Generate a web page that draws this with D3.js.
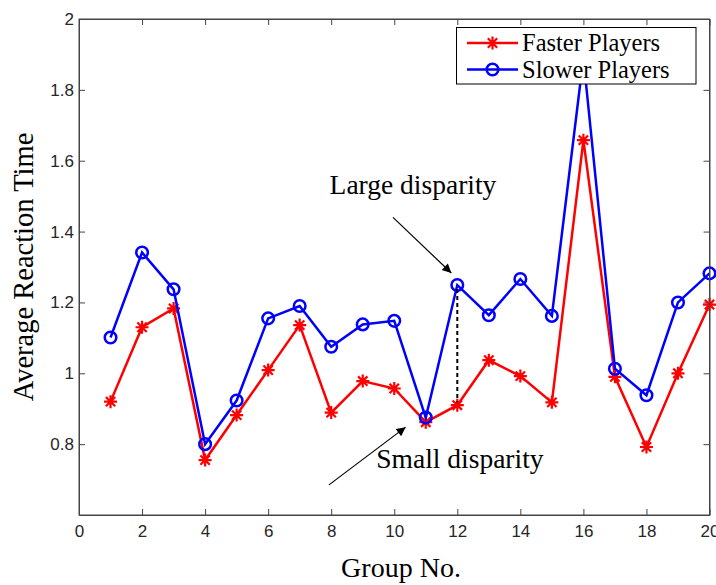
<!DOCTYPE html>
<html>
<head>
<meta charset="utf-8">
<script src="https://cdn.jsdelivr.net/npm/d3@7"></script>
<style>
  html, body { margin: 0; padding: 0; background: #fff; }
  svg { display: block; }
</style>
</head>
<body>
<svg id="chart" width="716" height="585"></svg>
<script>
// ---- data ----
const groups = d3.range(1, 21);
const fasterPlayers = [0.92, 1.13, 1.183, 0.755, 0.882, 1.009, 1.136, 0.889, 0.978, 0.957,
                       0.862, 0.91, 1.037, 0.992, 0.918, 1.658, 0.99, 0.792, 1.0, 1.194];
const slowerPlayers = [1.101, 1.341, 1.237, 0.8, 0.923, 1.155, 1.19, 1.075, 1.138, 1.148,
                       0.875, 1.249, 1.164, 1.266, 1.162, 1.89, 1.013, 0.938, 1.2, 1.282];
const seriesNames = ["Faster Players", "Slower Players"];
const xTicks = [0, 2, 4, 6, 8, 10, 12, 14, 16, 18, 20];
const yTicks = [0.8, 1, 1.2, 1.4, 1.6, 1.8, 2];
const xLabel = "Group No.";
const yLabel = "Average Reaction Time";
// annotations in data units
const disparityGroup = 12;
const largeLabel = { text: "Large disparity", x: 7.95, y: 1.505 };
const largeArrow = { x1: 9.96, y1: 1.44, x2: 11.81, y2: 1.283 };
const smallLabel = { text: "Small disparity", x: 9.43, y: 0.732 };
const smallArrow = { x1: 7.93, y1: 0.685, x2: 10.36, y2: 0.848 };

// ---- layout ----
const svg = d3.select("#chart");
const L = 79, R = 709.5, T = 19, B = 515;
const x = d3.scaleLinear().domain([0, 20]).range([L, R]);
const y = d3.scaleLinear().domain([0.6, 2]).range([B, T]);
const axisColor = "#444";
const sans = "'Liberation Sans', Arial, sans-serif";
const serif = "'Liberation Serif', 'Times New Roman', serif";

svg.append("defs").append("marker")
  .attr("id", "ah").attr("viewBox", "0 0 10 10")
  .attr("refX", 10).attr("refY", 5)
  .attr("markerWidth", 12).attr("markerHeight", 9)
  .attr("markerUnits", "userSpaceOnUse")
  .attr("orient", "auto")
  .append("path").attr("d", "M0,0 L10,5 L0,10 Z").attr("fill", "#000");

// axes
function styleAxis(g, labels) {
  g.selectAll("path.domain").attr("stroke", axisColor);
  g.selectAll(".tick line").attr("stroke", axisColor);
  g.selectAll(".tick text").attr("fill", "#262626")
    .style("font-family", sans).style("font-size", "17px");
  if (!labels) g.selectAll(".tick text").remove();
}
svg.append("g").attr("transform", `translate(0,${B})`)
  .call(d3.axisBottom(x).tickValues(xTicks).tickFormat(d3.format("d")).tickSizeInner(-6).tickSizeOuter(0).tickPadding(10))
  .call(g => styleAxis(g, true));
svg.append("g").attr("transform", `translate(0,${T})`)
  .call(d3.axisTop(x).tickValues(xTicks).tickSizeInner(-6).tickSizeOuter(0))
  .call(g => styleAxis(g, false));
svg.append("g").attr("transform", `translate(${L},0)`)
  .call(d3.axisLeft(y).tickValues(yTicks).tickFormat(d => d3.format("~g")(d)).tickSizeInner(-6).tickSizeOuter(0).tickPadding(5))
  .call(g => styleAxis(g, true));
svg.append("g").attr("transform", `translate(${R},0)`)
  .call(d3.axisRight(y).tickValues(yTicks).tickSizeInner(-6).tickSizeOuter(0))
  .call(g => styleAxis(g, false));

// axis labels
svg.append("text").attr("x", 401).attr("y", 577)
  .attr("text-anchor", "middle").style("font-family", serif).style("font-size", "28px")
  .text(xLabel);
svg.append("text").attr("transform", `translate(33,${(T + B) / 2}) rotate(-90)`)
  .attr("text-anchor", "middle").style("font-family", serif).style("font-size", "28.5px")
  .text(yLabel);

// series
const line = d3.line().x((d, i) => x(groups[i])).y(d => y(d));
const plot = svg.append("g");
function starPath(s) {
  const d = s * 0.72;
  return `M${-s},0L${s},0M0,${-s}L0,${s}M${-d},${-d}L${d},${d}M${-d},${d}L${d},${-d}`;
}
plot.append("path").datum(fasterPlayers).attr("d", line)
  .attr("fill", "none").attr("stroke", "#ff0000").attr("stroke-width", 2.5);
plot.selectAll(".star").data(fasterPlayers).join("path")
  .attr("transform", (d, i) => `translate(${x(groups[i])},${y(d)})`)
  .attr("d", starPath(6.5)).attr("stroke", "#ff0000").attr("stroke-width", 2.2).attr("fill", "none");

plot.append("path").datum(slowerPlayers).attr("d", line)
  .attr("fill", "none").attr("stroke", "#0000ff").attr("stroke-width", 2.5);
plot.selectAll(".circ").data(slowerPlayers).join("circle")
  .attr("cx", (d, i) => x(groups[i])).attr("cy", d => y(d)).attr("r", 5.8)
  .attr("fill", "none").attr("stroke", "#0000ff").attr("stroke-width", 2.5);

// dashed disparity line
const di = groups.indexOf(disparityGroup);
svg.append("line")
  .attr("x1", x(disparityGroup)).attr("x2", x(disparityGroup))
  .attr("y1", y(slowerPlayers[di]) + 4).attr("y2", y(fasterPlayers[di]) - 3)
  .attr("stroke", "#000").attr("stroke-width", 2).attr("stroke-dasharray", "4,3");

// annotations
[largeArrow, smallArrow].forEach(a => {
  svg.append("line")
    .attr("x1", x(a.x1)).attr("y1", y(a.y1)).attr("x2", x(a.x2)).attr("y2", y(a.y2))
    .attr("stroke", "#000").attr("stroke-width", 1.2).attr("marker-end", "url(#ah)");
});
[largeLabel, smallLabel].forEach(t => {
  svg.append("text").attr("x", x(t.x)).attr("y", y(t.y))
    .style("font-family", serif).style("font-size", "27.5px").attr("fill", "#000")
    .text(t.text);
});

// frame
svg.append("rect").attr("x", L).attr("y", T).attr("width", R - L).attr("height", B - T)
  .attr("fill", "none").attr("stroke", axisColor).attr("stroke-width", 1);

// legend
const lg = svg.append("g");
lg.append("rect").attr("x", 456.5).attr("y", 27.5).attr("width", 239.5).attr("height", 56.5)
  .attr("fill", "#fff").attr("stroke", "#000").attr("stroke-width", 1);
const rows = [
  { name: seriesNames[0], color: "#ff0000", type: "star", cy: 43 },
  { name: seriesNames[1], color: "#0000ff", type: "circle", cy: 69.5 }
];
rows.forEach(r => {
  lg.append("line").attr("x1", 467).attr("x2", 518).attr("y1", r.cy).attr("y2", r.cy)
    .attr("stroke", r.color).attr("stroke-width", 2.5);
  if (r.type === "star") {
    lg.append("path").attr("transform", `translate(492.5,${r.cy})`).attr("d", starPath(6.5))
      .attr("stroke", r.color).attr("stroke-width", 2.2).attr("fill", "none");
  } else {
    lg.append("circle").attr("cx", 492.5).attr("cy", r.cy).attr("r", 5.8)
      .attr("fill", "none").attr("stroke", r.color).attr("stroke-width", 2.5);
  }
  lg.append("text").attr("x", 522).attr("y", r.cy + 8)
    .style("font-family", serif).style("font-size", "24.5px").attr("fill", "#000")
    .text(r.name);
});
</script>
</body>
</html>
